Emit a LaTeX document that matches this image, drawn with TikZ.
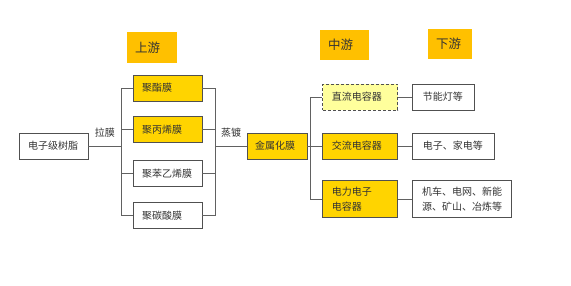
\documentclass[tikz,border=0pt]{standalone}
\usepackage{fontspec}
\newfontfamily\cjk{Noto Sans CJK SC}
\usepackage{xcolor}
\usepackage{tikz}
\usetikzlibrary{positioning, calc}

\definecolor{headfill}{HTML}{FFC000}
\definecolor{boxfill}{HTML}{FFD400}
\definecolor{dashfill}{HTML}{FFFF9C}
\definecolor{boxline}{HTML}{505050}
\definecolor{textgray}{HTML}{333333}

\begin{document}
\begin{tikzpicture}[
    x=1pt, y=-1pt,
    header/.style={fill=headfill, rectangle, inner xsep=8pt, inner ysep=0pt, align=left, text=textgray, font=\cjk\fontsize{12.5}{15}\selectfont},
    box/.style={draw=boxline, line width=0.9pt, rectangle, inner xsep=9pt, inner ysep=0pt, minimum height=26pt, align=left, text=textgray, font=\cjk\fontsize{10}{15.5}\selectfont},
    hibox/.style={box, fill=boxfill},
    dashbox/.style={box, fill=dashfill, dash pattern=on 3pt off 2pt},
    edge/.style={draw=boxline!90, line width=0.9pt},
    steplabel/.style={inner sep=0pt, text=textgray, font=\cjk\fontsize{10}{12}\selectfont}
]
\useasboundingbox (0,0) rectangle (571,286);

% Knoten
\node[header, text width=34pt, minimum height=31pt] (up) at (152,48) {上游};
\node[header, text width=33pt, minimum height=30pt] (mid) at (344.5,45) {中游};
\node[header, text width=28pt, minimum height=30pt] (down) at (450,44) {下游};

\node[box, text width=51pt] (resin) at (53.5,146) {电子级树脂};
\node[hibox, text width=51pt] (pet) at (167.5,88) {聚酯膜};
\node[hibox, text width=51pt, below=15pt of pet] (pp) {聚丙烯膜};
\node[box, text width=51pt, below=17pt of pp] (ps) {聚苯乙烯膜};
\node[box, text width=51pt, below=15pt of ps] (pc) {聚碳酸膜};

\node[hibox, text width=44pt, inner xsep=8pt] (metal) at (277,146) {金属化膜};
\node[hibox, text width=57pt, right=15pt of metal] (ac) {交流电容器};
\node[dashbox, text width=57pt, above=22pt of ac] (dc) {直流电容器};
\node[hibox, text width=57pt, minimum height=37pt, below=21pt of ac] (pe) {电力电子\\电容器};

\node[box, text width=42pt, inner xsep=10pt, right=14pt of dc] (lamp) {节能灯等};
\node[box, text width=62pt, inner xsep=10pt, right=14pt of ac] (home) {电子、家电等};
\node[box, text width=80.5pt, inner xsep=9.25pt, minimum height=37pt, right=14pt of pe] (grid) {机车、电网、新能\\源、矿山、冶炼等};

% Kanten zwischen Knoten
\draw[edge] (resin.east) -- +(33,0) node[midway, above=8pt, steplabel] {拉膜} |- (pet.west);
\draw[edge] (resin.east) -- +(33,0) |- (pp.west);
\draw[edge] (resin.east) -- +(33,0) |- (ps.west);
\draw[edge] (resin.east) -- +(33,0) |- (pc.west);

\draw[edge] (pet.east) -- +(13,0) |- (metal.west) node[pos=0.75, above=8pt, steplabel] {蒸镀};
\draw[edge] (pp.east) -- +(13,0) |- (metal.west);
\draw[edge] (ps.east) -- +(13,0) |- (metal.west);
\draw[edge] (pc.east) -- +(13,0) |- (metal.west);

\draw[edge] (metal.east) -- +(2.5,0) |- (dc.west);
\draw[edge] (metal.east) -- (ac.west);
\draw[edge] (metal.east) -- +(2.5,0) |- (pe.west);

\draw[edge] (dc.east) -- (lamp.west);
\draw[edge] (ac.east) -- (home.west);
\draw[edge] (pe.east) -- (grid.west);

\end{tikzpicture}
\end{document}
